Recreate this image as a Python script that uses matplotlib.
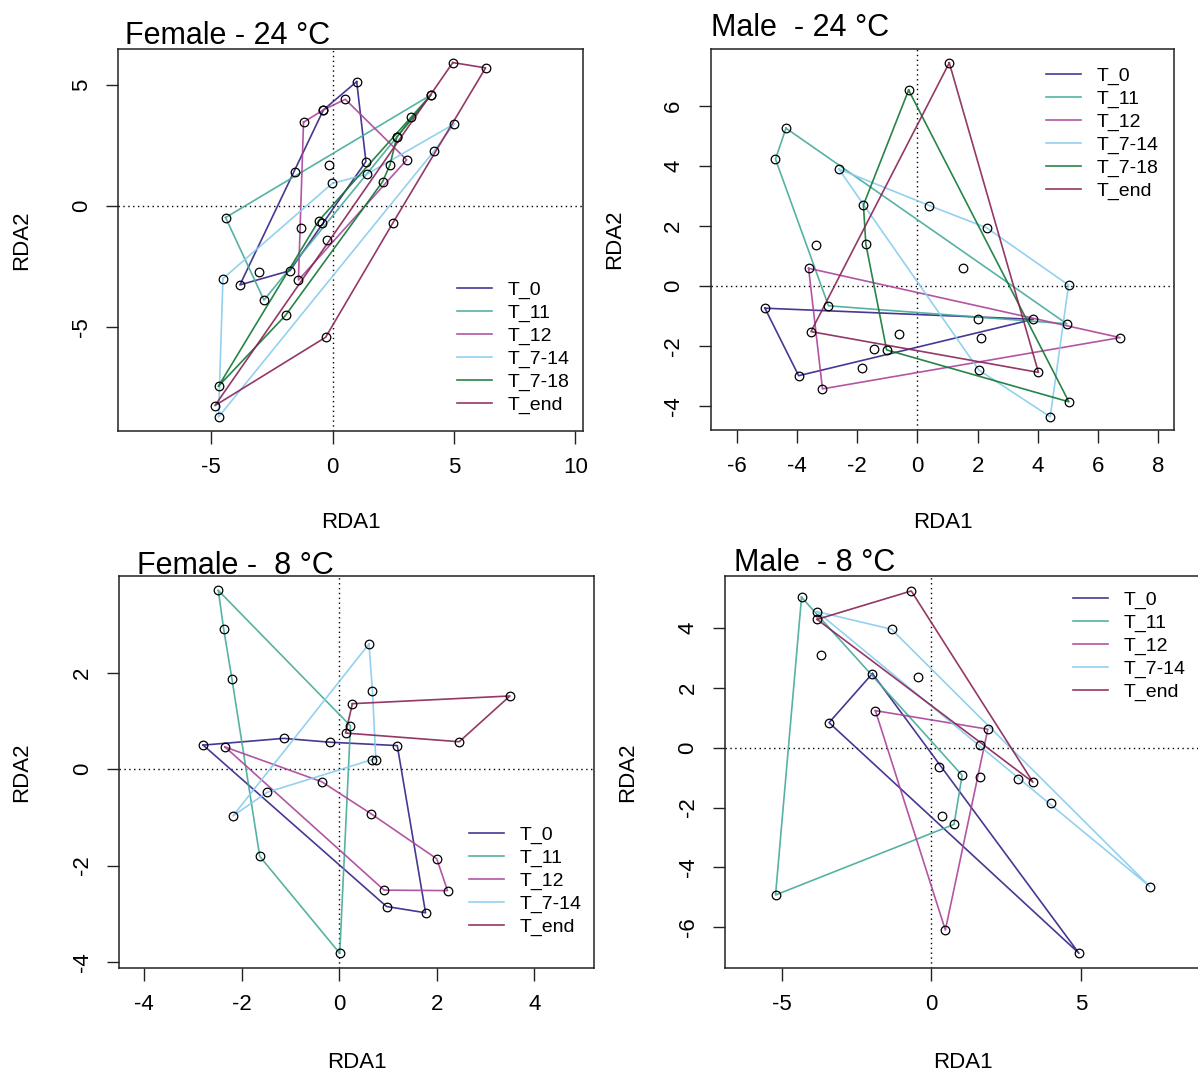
import matplotlib
matplotlib.use("Agg")
import matplotlib.pyplot as plt
from matplotlib.lines import Line2D

plt.rcParams['font.family'] = ['Liberation Sans', 'DejaVu Sans']
plt.rcParams['axes.unicode_minus'] = False

W, H = 1198, 1077

groups = ["T_0", "T_11", "T_12", "T_7-14", "T_7-18", "T_end"]
colors = {"T_0": "#332288", "T_11": "#44AA99", "T_12": "#AA4499",
          "T_7-14": "#88CCEE", "T_7-18": "#117733", "T_end": "#882255"}

# Female 24 C : hull outlines (x list, y list) and points off the outlines
f24_hulls = {
    "T_0": ([0.99, 1.37, -1.76, -3.82, -0.38], [5.15, 1.84, -2.68, -3.27, 3.98]),
    "T_11": ([-4.41, 4.05, 2.64, -2.83], [-0.48, 4.60, 2.85, -3.90]),
    "T_12": ([-1.20, -0.38, 0.52, 3.05, -1.41], [3.47, 3.98, 4.42, 1.91, -3.07]),
    "T_7-14": ([-4.52, -0.01, 1.40, 5.01, 4.18, -4.70], [-3.01, 0.94, 1.31, 3.40, 2.28, -8.74]),
    "T_7-18": ([-4.70, -0.58, 4.05, 2.64, 2.36, 2.06, -1.94], [-7.46, -0.62, 4.60, 2.85, 1.70, 1.01, -4.53]),
    "T_end": ([4.95, 6.30, 2.47, -0.29, -4.85], [5.94, 5.72, -0.72, -5.44, -8.27]),
}
f24_extra_x = [-1.55, -0.15, -0.44, -1.32, -0.22, -3.02, 3.23]
f24_extra_y = [1.42, 1.70, -0.69, -0.90, -1.41, -2.75, 3.70]

# Male 24 C
m24_hulls = {
    "T_0": ([-5.06, 3.85, -3.94], [-0.74, -1.11, -2.99]),
    "T_11": ([-4.36, 4.96, -2.95, -4.71], [5.26, -1.26, -0.66, 4.23]),
    "T_12": ([-3.61, 6.73, -3.15], [0.59, -1.72, -3.43]),
    "T_7-14": ([-2.61, 0.40, 2.30, 5.02, 4.41, 2.04], [3.90, 2.68, 1.94, 0.03, -4.36, -2.80]),
    "T_7-18": ([-0.29, 5.03, -1.02, -1.71, -1.79], [6.53, -3.86, -2.13, 1.40, 2.70]),
    "T_end": ([1.06, 4.02, -3.53], [7.44, -2.88, -1.52]),
}
m24_extra_x = [-3.36, 1.50, 2.00, -0.60, 2.10, -1.43, -1.85]
m24_extra_y = [1.38, 0.59, -1.11, -1.61, -1.74, -2.11, -2.72]

# Female 8 C
f8_hulls = {
    "T_0": ([-2.79, -1.14, -0.19, 1.19, 1.77, 0.97], [0.50, 0.64, 0.56, 0.49, -2.98, -2.85]),
    "T_11": ([-2.48, 0.23, 0.01, -1.63, -2.20, -2.37], [3.71, 0.90, -3.82, -1.81, 1.87, 2.91]),
    "T_12": ([-2.34, -0.36, 0.66, 2.00, 2.22, 0.92], [0.46, -0.26, -0.93, -1.86, -2.52, -2.51]),
    "T_7-14": ([0.61, 0.68, 0.75, 0.68, -1.48, -2.18], [2.60, 1.63, 0.20, 0.20, -0.48, -0.97]),
    "T_end": ([0.27, 3.50, 2.46, 0.13], [1.36, 1.52, 0.57, 0.75]),
}
f8_extra_x = []
f8_extra_y = []

# Male 8 C
m8_hulls = {
    "T_0": ([-1.97, 4.94, -3.42], [2.48, -6.87, 0.84]),
    "T_11": ([-4.34, 1.03, 0.76, -5.21], [5.03, -0.92, -2.56, -4.92]),
    "T_12": ([-1.87, 1.89, 0.47], [1.24, 0.62, -6.09]),
    "T_7-14": ([-3.82, -1.33, 7.31], [4.55, 3.96, -4.64]),
    "T_end": ([-3.82, -0.67, 3.40], [4.29, 5.24, -1.15]),
}
m8_extra_x = [-3.70, -0.46, 0.25, 0.36, 1.64, 2.91, 4.01, 1.64]
m8_extra_y = [3.10, 2.37, -0.65, -2.27, -0.98, -1.06, -1.84, 0.09]

titles = ["Female - 24 °C", "Male  - 24 °C", "Female -  8 °C", "Male  - 8 °C"]


def rect(l, t, r, b):
    return [l / W, 1 - b / H, (r - l) / W, (b - t) / H]


panels = [
    dict(hulls=f24_hulls, ex=f24_extra_x, ey=f24_extra_y, box=(118.3, 49.3, 582.7, 430.7),
         xlim=(-8.83, 10.30), ylim=(-9.31, 6.49), xt=[-5, 0, 5, 10], yt=[-5, 0, 5],
         title=(125, 44), leg=(457, 281), xlab=523, ylab=22),
    dict(hulls=m24_hulls, ex=m24_extra_x, ey=m24_extra_y, box=(710.7, 49.3, 1174.3, 430),
         xlim=(-6.86, 8.53), ylim=(-4.80, 7.89), xt=[-6, -4, -2, 0, 2, 4, 6, 8], yt=[-4, -2, 0, 2, 4, 6],
         title=(711, 36), leg=(1046, 67), xlab=523, ylab=615),
    dict(hulls=f8_hulls, ex=f8_extra_x, ey=f8_extra_y, box=(119.3, 576, 594.3, 967.7),
         xlim=(-4.51, 5.23), ylim=(-4.12, 4.01), xt=[-4, -2, 0, 2, 4], yt=[-4, -2, 0, 2],
         title=(137, 574), leg=(469, 826), xlab=1063, ylab=22),
    dict(hulls=m8_hulls, ex=m8_extra_x, ey=m8_extra_y, box=(725, 576, 1201, 967.7),
         xlim=(-6.9, 9.02), ylim=(-7.35, 5.74), xt=[-5, 0, 5], yt=[-6, -4, -2, 0, 2, 4],
         title=(734, 571), leg=(1073, 591), xlab=1063, ylab=628),
]

fig = plt.figure(figsize=(W / 100, H / 100), dpi=100)

for p, title in zip(panels, titles):
    ax = fig.add_axes(rect(*p["box"]))
    l, t, r, b = p["box"]
    ax.axhline(0, color="black", lw=1, ls=(0, (1, 2.5)), zorder=1)
    ax.axvline(0, color="black", lw=1, ls=(0, (1, 2.5)), zorder=1)

    handles = []
    for g in groups:
        if g not in p["hulls"]:
            continue
        xs, ys = p["hulls"][g]
        ax.plot(xs + xs[:1], ys + ys[:1], color=colors[g], lw=1.2, alpha=0.9, zorder=2)
        ax.plot(xs, ys, ls="none", marker="o", ms=6.2, mfc="none", mec="black", mew=0.9, zorder=3)
        handles.append(Line2D([], [], color=colors[g], lw=1.2, alpha=0.9, label=g))
    ax.plot(p["ex"], p["ey"], ls="none", marker="o", ms=6.2, mfc="none", mec="black", mew=0.9, zorder=3)

    ax.set_xlim(*p["xlim"])
    ax.set_ylim(*p["ylim"])
    ax.set_xticks(p["xt"])
    ax.set_yticks(p["yt"])
    ax.tick_params(length=9, width=1, pad=10, labelsize=16, color="#222222")
    for lab in ax.get_yticklabels():
        lab.set_rotation(90)
        lab.set_va("center")
    for s in ax.spines.values():
        s.set_linewidth(1.1)
        s.set_color("#222222")

    ax.set_xlabel("RDA1", fontsize=16)
    ax.xaxis.set_label_coords(((l + r) / 2) / W, 1 - p["xlab"] / H, transform=fig.transFigure)
    ax.xaxis.label.set_va("center")
    ax.set_ylabel("RDA2", fontsize=16)
    ax.yaxis.set_label_coords(p["ylab"] / W, 1 - ((t + b) / 2) / H, transform=fig.transFigure)
    ax.yaxis.label.set_va("center")

    lx, ly = p["leg"]
    ax.legend(handles=handles, loc="upper left", bbox_to_anchor=(lx / W, 1 - ly / H),
              bbox_transform=fig.transFigure, frameon=False, fontsize=14,
              handlelength=1.8, handletextpad=0.8, labelspacing=0.27,
              borderpad=0, borderaxespad=0)

    tx, ty = p["title"]
    fig.text(tx / W, 1 - ty / H, title, fontsize=22, va="baseline", ha="left")

fig.savefig("out.png", dpi=100)
